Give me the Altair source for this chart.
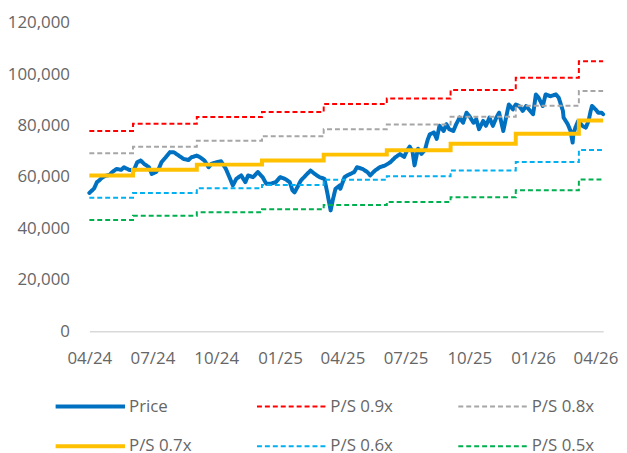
import altair as alt
import pandas as pd

# ---- Price series (traced) ----
price_dates = [
    "2024-04-01", "2024-04-04", "2024-04-08", "2024-04-12", "2024-04-15", "2024-04-20",
    "2024-04-25", "2024-04-30", "2024-05-04", "2024-05-10", "2024-05-17", "2024-05-21",
    "2024-05-28", "2024-06-04", "2024-06-09", "2024-06-14", "2024-06-19", "2024-06-26",
    "2024-06-30", "2024-07-06", "2024-07-10", "2024-07-14", "2024-07-20", "2024-07-26",
    "2024-08-01", "2024-08-08", "2024-08-15", "2024-08-22", "2024-08-26", "2024-09-03",
    "2024-09-08", "2024-09-14", "2024-09-20", "2024-09-24", "2024-10-01", "2024-10-08",
    "2024-10-15", "2024-10-21", "2024-10-25", "2024-10-30", "2024-11-06", "2024-11-12",
    "2024-11-16", "2024-11-23", "2024-11-30", "2024-12-07", "2024-12-12", "2024-12-19",
    "2024-12-26", "2025-01-01", "2025-01-08", "2025-01-15", "2025-01-19", "2025-01-22",
    "2025-01-27", "2025-01-31", "2025-02-07", "2025-02-14", "2025-02-20", "2025-02-27",
    "2025-03-06", "2025-03-10", "2025-03-15", "2025-03-18", "2025-03-22", "2025-03-28",
    "2025-03-29", "2025-04-04", "2025-04-08", "2025-04-18", "2025-04-22", "2025-04-30",
    "2025-05-07", "2025-05-11", "2025-05-18", "2025-05-25", "2025-06-01", "2025-06-09",
    "2025-06-16", "2025-06-23", "2025-06-29", "2025-07-03", "2025-07-07", "2025-07-11",
    "2025-07-14", "2025-07-19", "2025-07-24", "2025-07-29", "2025-08-02", "2025-08-05",
    "2025-08-11", "2025-08-15", "2025-08-19", "2025-08-25", "2025-08-29", "2025-09-02",
    "2025-09-08", "2025-09-12", "2025-09-17", "2025-09-22", "2025-09-27", "2025-10-01",
    "2025-10-07", "2025-10-11", "2025-10-15", "2025-10-21", "2025-10-25", "2025-10-30",
    "2025-11-04", "2025-11-09", "2025-11-13", "2025-11-19", "2025-11-23", "2025-11-27",
    "2025-12-03", "2025-12-07", "2025-12-12", "2025-12-17", "2025-12-22", "2025-12-26",
    "2026-01-01", "2026-01-05", "2026-01-09", "2026-01-15", "2026-01-19", "2026-01-26",
    "2026-02-03", "2026-02-07", "2026-02-13", "2026-02-14", "2026-02-20", "2026-02-24",
    "2026-02-27", "2026-02-28", "2026-03-03", "2026-03-07", "2026-03-13", "2026-03-18",
    "2026-03-22", "2026-03-25", "2026-03-27", "2026-04-01", "2026-04-05", "2026-04-10",
    "2026-04-12",
]
price_values = [
    53800, 54500, 55600, 58000, 58600, 59900,
    60500, 60800, 61900, 63100, 62800, 63800,
    62800, 62500, 65700, 66400, 65100, 63800,
    61200, 61900, 63100, 65700, 67600, 69600,
    69600, 68300, 67000, 66600, 67600, 68300,
    67600, 66400, 63800, 65100, 65700, 66100,
    63100, 59300, 56700, 59300, 60600, 58000,
    60600, 59900, 61900, 59900, 57400, 57400,
    58000, 59900, 59300, 58000, 54800, 54000,
    56500, 58600, 60600, 62500, 61200, 59900,
    59300, 54100, 47000, 50900, 55400, 56700,
    55400, 59900, 60600, 61900, 63800, 63100,
    61900, 60600, 62500, 63800, 64400, 65700,
    67600, 68900, 67800, 70200, 71800, 70000,
    64500, 71000, 69000, 70500, 74500, 76600,
    77300, 74800, 79900, 77900, 80500, 78600,
    77900, 80500, 83100, 81100, 85000, 83700,
    81100, 82500, 78600, 81800, 79900, 83100,
    79900, 83100, 85000, 77900, 83100, 88200,
    86300, 88200, 87600, 85700, 87600, 86300,
    84400, 92100, 90800, 87600, 92100, 91400,
    92100, 90800, 85700, 83100, 80500, 77900,
    73400, 76600, 79200, 81800, 79900, 79200,
    81800, 85700, 87600, 86300, 85000, 85000,
    84400,
]

# ---- P/S band levels (step changes) ----
step_dates = ["2024-04-01", "2024-06-03", "2024-09-03", "2024-12-06", "2025-03-05",
              "2025-06-04", "2025-09-04", "2025-12-07", "2026-03-08"]
end_date = "2026-04-12"
ps_09 = [77900, 80700, 83300, 85300, 88400, 90500, 93800, 98600, 105000]
ps_08 = [69200, 71800, 74100, 75800, 78600, 80400, 83400, 87700, 93400]
ps_07 = [60600, 62800, 64800, 66400, 68700, 70400, 72900, 76800, 82000]
ps_06 = [51900, 53800, 55600, 56900, 58900, 60300, 62500, 65800, 70500]
ps_05 = [43300, 44900, 46300, 47400, 49100, 50300, 52100, 54800, 59000]

series_names = ["Price", "P/S 0.9x", "P/S 0.8x", "P/S 0.7x", "P/S 0.6x", "P/S 0.5x"]
series_colors = ["#0070C0", "#FF0000", "#A6A6A6", "#FFC000", "#00B0F0", "#00B050"]
series_dash = [[1, 0], [5, 3], [5, 3], [1, 0], [5, 3], [5, 3]]
series_width = [4, 2, 2, 4, 2, 2]

y_ticks = [0, 20000, 40000, 60000, 80000, 100000, 120000]

price_df = pd.DataFrame({"date": price_dates, "value": price_values, "series": "Price"})

rows = []
for name, levels in zip(series_names[1:], [ps_09, ps_08, ps_07, ps_06, ps_05]):
    for d, v in zip(step_dates + [end_date], levels + [levels[-1]]):
        rows.append({"date": d, "value": v, "series": name})
steps_df = pd.DataFrame(rows)

FONT = "Open Sans"
TXT = "#666666"

legend = alt.Legend(
    orient="none", legendX=-36, legendY=377, columns=3, direction="horizontal",
    symbolType="stroke", symbolSize=4900, clipHeight=20, rowPadding=20,
    columnPadding=63, labelOffset=2, labelFontSize=17, labelFont=FONT,
    labelColor=TXT, padding=0, title=None,
)

x_enc = alt.X(
    "date:T",
    scale=alt.Scale(
        type="utc",
        domain=[alt.DateTime(year=2024, month=4, date=1, utc=True),
                alt.DateTime(year=2026, month=4, date=12, utc=True)],
        nice=False,
    ),
    axis=alt.Axis(
        title=None, format="%m/%y", formatType="time", grid=False, ticks=False,
        values=[alt.DateTime(year=y, month=m, date=1, utc=True)
                for y, m in [(2024, 4), (2024, 7), (2024, 10), (2025, 1), (2025, 4),
                             (2025, 7), (2025, 10), (2026, 1), (2026, 4)]],
        domainColor="#D9D9D9", domainWidth=1.5, labelPadding=20,
        labelFont=FONT, labelFontSize=17, labelColor=TXT, labelFlush=False,
        labelOverlap=False,
    ),
)
y_enc = alt.Y(
    "value:Q",
    scale=alt.Scale(domain=[0, 120000], nice=False),
    axis=alt.Axis(
        title=None, values=y_ticks, format=",.0f", grid=False, ticks=False, domain=False,
        labelPadding=20, labelFont=FONT, labelFontSize=17, labelColor=TXT,
    ),
)
color_enc = alt.Color("series:N", scale=alt.Scale(domain=series_names, range=series_colors),
                      legend=legend, sort=series_names)
dash_enc = alt.StrokeDash("series:N", scale=alt.Scale(domain=series_names, range=series_dash),
                          legend=legend, sort=series_names)
width_enc = alt.StrokeWidth("series:N", scale=alt.Scale(type="ordinal", domain=series_names, range=series_width),
                            legend=legend, sort=series_names)

price_layer = alt.Chart(price_df).mark_line(strokeJoin="round", strokeCap="round").encode(
    x=x_enc, y=y_enc, color=color_enc, strokeDash=dash_enc, strokeWidth=width_enc,
)
steps_layer = alt.Chart(steps_df).mark_line(interpolate="step-after").encode(
    x=x_enc, y=y_enc, color=color_enc, strokeDash=dash_enc, strokeWidth=width_enc,
    detail="series:N",
)

chart = alt.layer(price_layer, steps_layer).properties(
    width=518, height=311,
    background="white",
    autosize=alt.AutoSizeParams(type="none"),
    padding={"left": 82, "top": 13, "right": 16, "bottom": 130},
).configure_view(stroke=None)

chart.save("out.html", embed_options={"renderer": "svg", "actions": False})
